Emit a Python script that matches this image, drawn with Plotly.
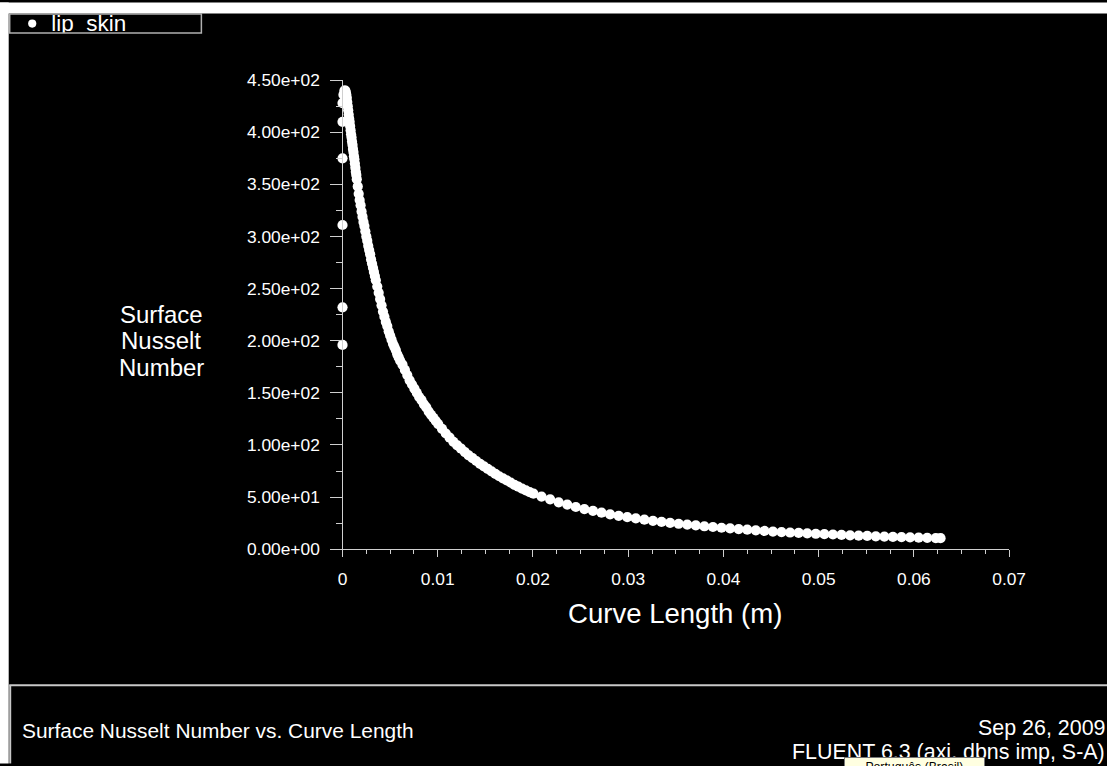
import plotly.graph_objects as go

# ---------------- data ----------------
series_name = "lip_skin"

curve_length_m = [
    0, 0, 0, 0, 0, 0,
    0.0001, 0.0002, 0.0003, 0.00035, 0.0004, 0.00045, 0.0005, 0.00055, 0.0006, 0.00065,
    0.0007, 0.00075, 0.0008, 0.00085, 0.0009, 0.00095, 0.0010, 0.00105, 0.0011, 0.00115,
    0.0012, 0.00125, 0.0013, 0.00135, 0.0014, 0.00145, 0.0015,
    0.0016, 0.0017, 0.0018, 0.0019, 0.0020, 0.0021, 0.0022, 0.0023, 0.0024, 0.0025,
    0.0026, 0.0027, 0.0028, 0.0029, 0.0030, 0.0031, 0.0032, 0.0033, 0.0034, 0.0035,
    0.00365, 0.0038, 0.00395, 0.0041, 0.00425, 0.0044, 0.00455, 0.0047, 0.00485, 0.0050,
    0.00515, 0.0053, 0.00545, 0.0056, 0.00575, 0.0059, 0.00605,
    0.0063, 0.00655, 0.0068, 0.00705, 0.0073, 0.00755, 0.0078, 0.00805, 0.0083, 0.00855,
    0.0088, 0.00905, 0.0093, 0.00955, 0.0098, 0.01005,
    0.01045, 0.01085, 0.01125, 0.01165, 0.01205, 0.01245, 0.01285, 0.01325, 0.01365, 0.01405,
    0.01445, 0.01485, 0.01525, 0.01565, 0.01605, 0.01645, 0.01685, 0.01725, 0.01765, 0.01805,
    0.01845, 0.01885, 0.01925, 0.01965, 0.02005,
    0.0209, 0.0218, 0.0227, 0.0236, 0.0245, 0.0254, 0.0263, 0.0272, 0.0281, 0.0290,
    0.0299, 0.0308, 0.0317, 0.0326, 0.0335, 0.0344, 0.0353, 0.0362, 0.0371, 0.0380,
    0.0389, 0.0398, 0.0407, 0.0416, 0.0425, 0.0434, 0.0443, 0.0452, 0.0461, 0.0470,
    0.0479, 0.0488, 0.0497, 0.0506, 0.0515, 0.0524, 0.0533, 0.0542, 0.0551, 0.0560,
    0.0569, 0.0578, 0.0587, 0.0596, 0.0605, 0.0614, 0.0623, 0.0628,
]

surface_nusselt = [
    196, 232, 311, 375, 410, 428,
    436, 440, 440, 438, 436, 433, 429, 425, 421, 417,
    413, 410, 406, 402, 398, 395, 391, 388, 384, 381,
    377, 374, 370, 366, 362, 359, 355,
    348, 341, 335, 330, 324, 319, 314, 310, 305, 300,
    296, 291, 287, 283, 278, 274, 270, 266, 262, 258,
    252, 246, 240, 234, 228, 223, 218, 214, 209, 205,
    201, 197, 194, 191, 187, 184, 181,
    177, 172, 167, 162, 158, 154, 150, 146, 143, 139,
    136, 132, 129, 126, 123, 120,
    115.5, 111, 107, 103, 99.6, 96.4, 93.2, 90, 87.4, 84.6,
    81.8, 79.4, 77, 74.6, 72.2, 70, 68, 66, 64, 61.8,
    60, 58.2, 56.5, 54.8, 53.3,
    50.5, 47.8, 45, 42.8, 40.5, 38.5, 36.8, 35, 33.4, 32,
    30.7, 29.5, 28.3, 27.2, 26.2, 25.2, 24.4, 23.6, 22.8, 22,
    21.3, 20.6, 19.9, 19.3, 18.7, 18.1, 17.5, 16.9, 16.4, 16,
    15.6, 15.2, 14.8, 14.4, 14.1, 13.7, 13.3, 13, 12.7, 12.4,
    12.1, 11.8, 11.5, 11.3, 11.1, 10.9, 10.7, 10.6,
]

x_tick_vals = [0, 0.01, 0.02, 0.03, 0.04, 0.05, 0.06, 0.07]
x_tick_text = ["0", "0.01", "0.02", "0.03", "0.04", "0.05", "0.06", "0.07"]
y_tick_vals = [0, 50, 100, 150, 200, 250, 300, 350, 400, 450]
y_tick_text = ["0.00e+00", "5.00e+01", "1.00e+02", "1.50e+02", "2.00e+02",
               "2.50e+02", "3.00e+02", "3.50e+02", "4.00e+02", "4.50e+02"]

x_title = "Curve Length (m)"
y_title_lines = ["Surface", "Nusselt", "Number"]
plot_title = "Surface Nusselt Number vs. Curve Length"
date_text = "Sep 26, 2009"
solver_text = "FLUENT 6.3 (axi, dbns imp, S-A)"
tooltip_text = "Português (Brasil)"

# ---------------- layout helpers ----------------
# The page adds a white margin and the shot is scaled to fit the window, so the
# figure keeps the window aspect and positions are given in target-picture
# pixels, converted to figure coordinates below.
FW, FH = 1122, 766
SX, OX = 0.9795, 5.8
SY, OY = 0.9737, 9.9
FONT = "Liberation Sans, Arial, Helvetica, sans-serif"
AXC = "#cfcfcf"


def px(r):
    return ((r - OX) / SX) / FW


def py(r):
    return 1 - ((r - OY) / SY) / FH


def fs(v):
    return v / SX


fig = go.Figure()

fig.add_trace(go.Scatter(
    x=curve_length_m, y=surface_nusselt, mode="markers",
    marker=dict(color="white", size=fs(10), line=dict(width=0)),
    cliponaxis=False, showlegend=False, hoverinfo="skip",
    xaxis="x", yaxis="y",
))

# legend entry (inside a small clipped subplot so the text is cut by the frame)
fig.add_trace(go.Scatter(
    x=[33], y=[23.5], mode="markers",
    marker=dict(color="white", size=fs(8)), showlegend=False, hoverinfo="skip",
    xaxis="x2", yaxis="y2",
))
fig.add_trace(go.Scatter(
    x=[52], y=[25.5], mode="text", text=[series_name], textposition="middle right",
    textfont=dict(color="white", size=fs(22), family=FONT), cliponaxis=True,
    showlegend=False, hoverinfo="skip", xaxis="x2", yaxis="y2",
))

fig.update_layout(
    width=FW, height=FH,
    margin=dict(l=0, r=0, t=0, b=0),
    paper_bgcolor="black", plot_bgcolor="black",
    showlegend=False,
    xaxis=dict(
        domain=[px(343), px(1009)], range=[0, 0.07], anchor="y",
        showline=True, linecolor=AXC, linewidth=1, mirror=False,
        ticks="outside", ticklen=fs(7), tickwidth=1, tickcolor=AXC,
        tickvals=x_tick_vals, ticktext=x_tick_text,
        tickfont=dict(color="white", size=fs(17), family=FONT),
        ticklabelstandoff=7,
        showgrid=False, zeroline=False,
        minor=dict(ticks="outside", ticklen=fs(4), tickwidth=1, tickcolor=AXC,
                   dtick=0.0025, tick0=0, showgrid=False),
    ),
    yaxis=dict(
        domain=[py(549), py(80)], range=[0, 450], anchor="x",
        showline=True, linecolor=AXC, linewidth=1,
        ticks="outside", ticklen=fs(11), tickwidth=1, tickcolor=AXC,
        tickvals=y_tick_vals, ticktext=y_tick_text,
        tickfont=dict(color="white", size=fs(17), family=FONT),
        ticklabelstandoff=7,
        showgrid=False, zeroline=False,
        minor=dict(ticks="outside", ticklen=fs(5), tickwidth=1, tickcolor=AXC,
                   dtick=25, tick0=0, showgrid=False),
    ),
    xaxis2=dict(domain=[px(11), px(201)], range=[11, 201], anchor="y2",
                visible=False, fixedrange=True),
    yaxis2=dict(domain=[py(33), py(15)], range=[33, 15], anchor="x2",
                visible=False, fixedrange=True),
)

shapes = [
    # white top and left strips
    dict(type="rect", xref="paper", yref="paper", x0=-0.01, x1=1.01, y0=py(13.5), y1=1.01,
         fillcolor="white", line=dict(width=0), layer="above"),
    dict(type="rect", xref="paper", yref="paper", x0=-0.01, x1=px(9.5), y0=-0.01, y1=1.01,
         fillcolor="white", line=dict(width=0), layer="above"),
    # legend frame
    dict(type="rect", xref="paper", yref="paper", x0=px(10.5), x1=px(202), y0=py(33), y1=py(14),
         fillcolor="rgba(0,0,0,0)", line=dict(color="#b0b0b0", width=1.5), layer="above"),
    # bottom info panel frame
    dict(type="line", xref="paper", yref="paper", x0=px(10), x1=1.01, y0=py(685), y1=py(685),
         line=dict(color="#c8c8c8", width=2), layer="above"),
    dict(type="line", xref="paper", yref="paper", x0=px(11), x1=px(11), y0=py(685), y1=-0.01,
         line=dict(color="#c8c8c8", width=2), layer="above"),
]
fig.update_layout(shapes=shapes)

ann = []
# x axis title
ann.append(dict(text=x_title, x=px(675), y=py(613), xref="paper", yref="paper",
                xanchor="center", yanchor="middle", showarrow=False,
                font=dict(color="white", size=fs(27), family=FONT)))
# y axis title (three tightly spaced lines)
for line, yc in zip(y_title_lines, [314, 340.5, 367]):
    ann.append(dict(text=line, x=px(162), y=py(yc), xref="paper", yref="paper",
                    xanchor="center", yanchor="middle", showarrow=False,
                    font=dict(color="white", size=fs(23.5), family=FONT)))
# bottom panel texts
ann.append(dict(text=plot_title, x=px(21), y=py(730), xref="paper", yref="paper",
                xanchor="left", yanchor="middle", showarrow=False,
                font=dict(color="white", size=fs(20.5), family=FONT)))
ann.append(dict(text=date_text, x=px(1107), y=py(728), xref="paper", yref="paper",
                xanchor="right", yanchor="middle", showarrow=False,
                font=dict(color="white", size=fs(21), family=FONT)))
ann.append(dict(text=solver_text, x=px(1107), y=py(751.5), xref="paper", yref="paper",
                xanchor="right", yanchor="middle", showarrow=False,
                font=dict(color="white", size=fs(21), family=FONT)))
# system tooltip overlapping the bottom text
ann.append(dict(text=tooltip_text, x=px(914), y=py(757), xref="paper", yref="paper",
                xanchor="center", yanchor="top", showarrow=False,
                width=fs(134), height=fs(16), align="center",
                bgcolor="#ffffe1", bordercolor="#767676", borderwidth=1, borderpad=1,
                font=dict(color="black", size=fs(12), family=FONT)))
fig.update_layout(annotations=ann)

fig.write_html("out.html")
